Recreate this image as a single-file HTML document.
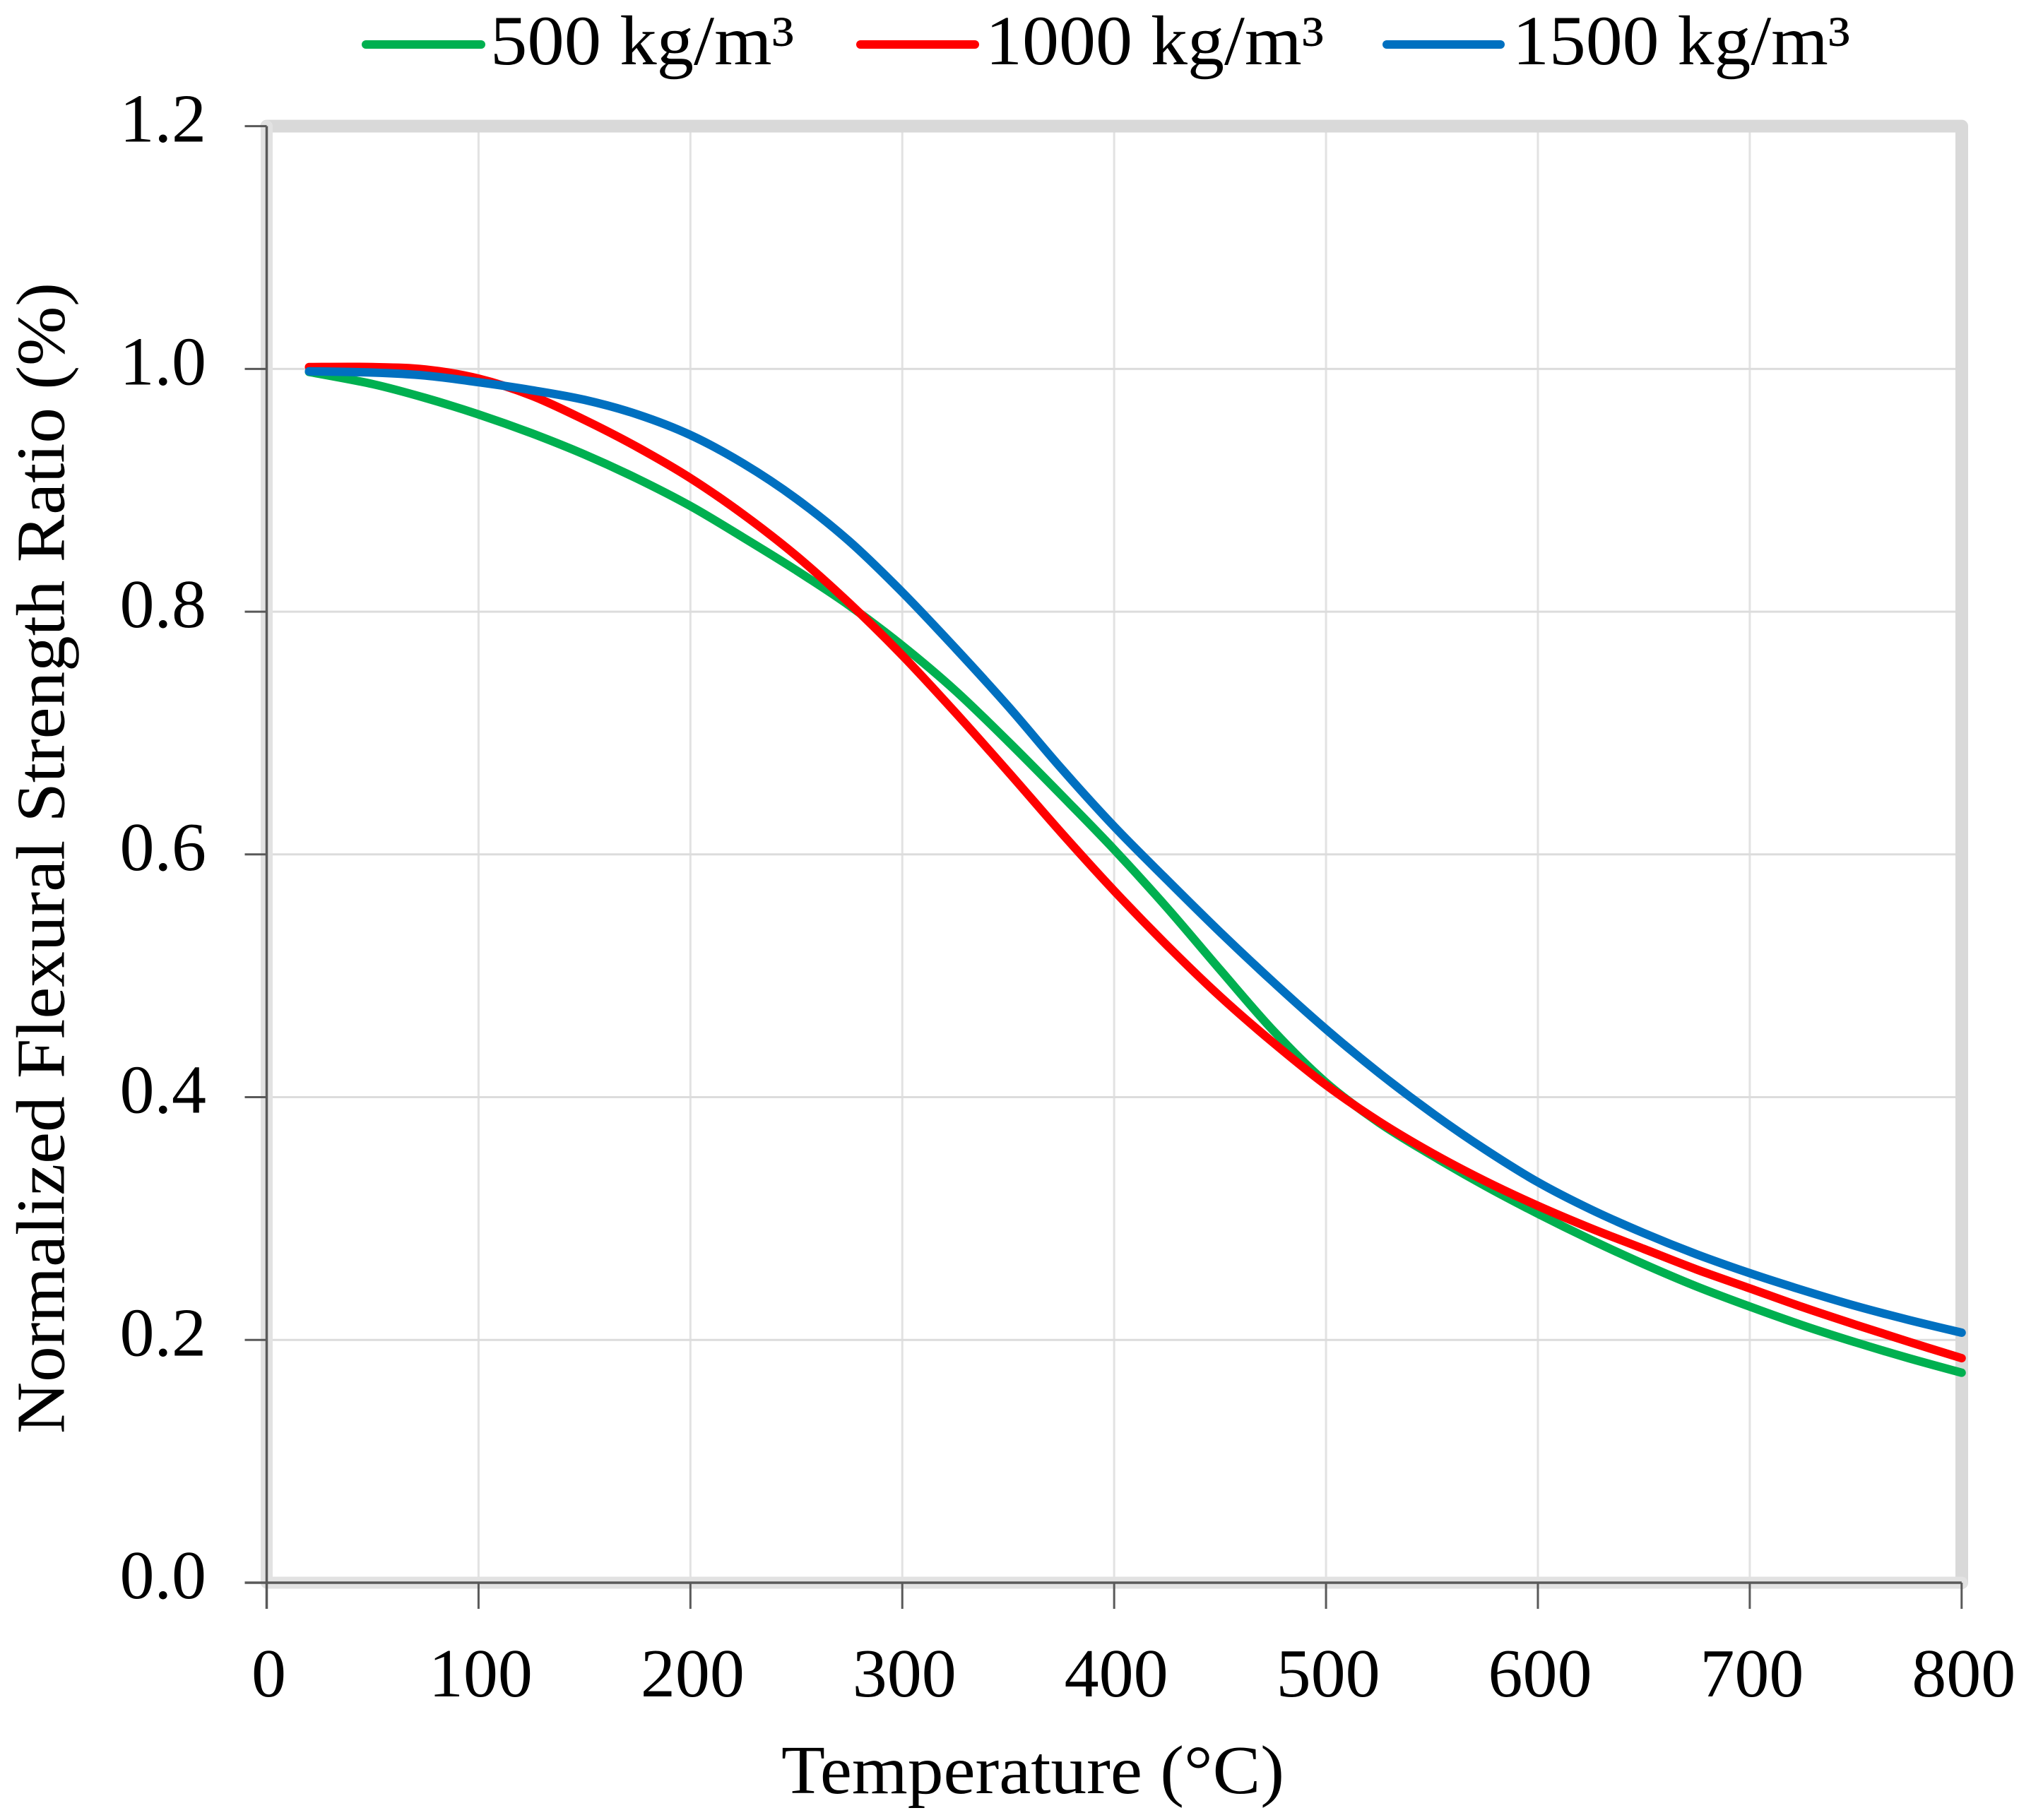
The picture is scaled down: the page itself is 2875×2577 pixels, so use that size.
<!DOCTYPE html>
<html lang="en">
<head>
<meta charset="utf-8">
<title>Normalized Flexural Strength Ratio vs Temperature</title>
<style>
  html, body { margin: 0; padding: 0; background: #ffffff; }
  svg { display: block; }
  text { font-family: "Liberation Serif", "DejaVu Serif", serif; fill: #000000; }
</style>
</head>
<body>
<svg id="chart" xmlns="http://www.w3.org/2000/svg" width="2875" height="2577" viewBox="0 0 2875 2577">
  <rect x="0" y="0" width="2875" height="2577" fill="#ffffff"/>
  <g id="grid"></g>
  <path id="frame-top-right" d="M377.5 178.6H2777V2241" fill="none" stroke="#d9d9d9" stroke-width="18" stroke-linejoin="round" stroke-linecap="round"/>
  <path id="frame-left-bottom" d="M377.5 178.6V2241H2777" fill="none" stroke="#e2e2e2" stroke-width="17" stroke-linejoin="round" stroke-linecap="round"/>
  <g id="axes"></g>
  <g id="series"></g>
  <g id="x-labels"></g>
  <g id="y-labels"></g>
  <text transform="translate(90.5 2030) rotate(-90)" font-size="98" textLength="1630" lengthAdjust="spacingAndGlyphs">Normalized Flexural Strength Ratio (%)</text>
  <text x="1106" y="2539" font-size="98" textLength="712" lengthAdjust="spacingAndGlyphs">Temperature (°C)</text>
  <g>
    <line x1="518" y1="63" x2="681" y2="63" stroke="#00b050" stroke-width="12" stroke-linecap="round"/>
    <text x="694" y="91" font-size="100" textLength="430" lengthAdjust="spacingAndGlyphs">500 kg/m³</text>
    <line x1="1218" y1="63" x2="1380" y2="63" stroke="#ff0000" stroke-width="12" stroke-linecap="round"/>
    <text x="1395" y="91" font-size="100" textLength="479" lengthAdjust="spacingAndGlyphs">1000 kg/m³</text>
    <line x1="1963" y1="63" x2="2124" y2="63" stroke="#0070c0" stroke-width="12" stroke-linecap="round"/>
    <text x="2141" y="91" font-size="100" textLength="478" lengthAdjust="spacingAndGlyphs">1500 kg/m³</text>
  </g>
</svg>
<script>
const xTicks = [0, 100, 200, 300, 400, 500, 600, 700, 800];
const yTicks = [0, 0.2, 0.4, 0.6, 0.8, 1.0, 1.2];
const yTickLabels = ['0.0', '0.2', '0.4', '0.6', '0.8', '1.0', '1.2'];

const tempGreen = [20, 50, 75, 100, 125, 150, 175, 200, 225, 250, 275, 300, 325, 350, 375, 400, 425, 450, 475, 500, 525, 550, 575, 600, 625, 650, 675, 700, 725, 750, 775, 800];
const density500 = [0.9975, 0.9875, 0.976, 0.9625, 0.947, 0.9295, 0.9095, 0.887, 0.861, 0.834, 0.805, 0.772, 0.735, 0.693, 0.649, 0.604, 0.556, 0.505, 0.455, 0.412, 0.379, 0.352, 0.327, 0.304, 0.2825, 0.2625, 0.244, 0.2275, 0.212, 0.198, 0.185, 0.173];

const tempRed = [20, 50, 75, 100, 125, 150, 175, 200, 225, 250, 275, 300, 325, 350, 375, 400, 425, 450, 475, 500, 525, 550, 575, 600, 625, 650, 675, 700, 725, 750, 775, 800];
const density1000 = [1.0015, 1.0015, 0.9995, 0.992, 0.978, 0.958, 0.9355, 0.910, 0.880, 0.846, 0.807, 0.764, 0.717, 0.668, 0.618, 0.570, 0.525, 0.483, 0.445, 0.410, 0.380, 0.354, 0.331, 0.3105, 0.292, 0.275, 0.258, 0.2425, 0.227, 0.2125, 0.1985, 0.185];

const tempBlue = [20, 50, 75, 100, 125, 150, 175, 200, 225, 250, 275, 300, 325, 350, 375, 400, 425, 450, 475, 500, 525, 550, 575, 600, 625, 650, 675, 700, 725, 750, 775, 800];
const density1500 = [0.998, 0.997, 0.9945, 0.989, 0.9825, 0.9745, 0.9625, 0.9455, 0.922, 0.893, 0.858, 0.816, 0.770, 0.722, 0.671, 0.623, 0.579, 0.536, 0.495, 0.456, 0.420, 0.387, 0.357, 0.330, 0.3075, 0.288, 0.2705, 0.255, 0.241, 0.228, 0.2165, 0.206];

const SVG_NS = 'http://www.w3.org/2000/svg';
const plotLeft = 377.5, plotRight = 2776.8, plotTop = 178.6, plotBottom = 2241;
const xMax = 800, yMax = 1.2;

function xScale(v) { return plotLeft + (v / xMax) * (plotRight - plotLeft); }
function yScale(v) { return plotBottom - (v / yMax) * (plotBottom - plotTop); }

function make(tag, attrs, parent) {
  const el = document.createElementNS(SVG_NS, tag);
  for (const k in attrs) el.setAttribute(k, attrs[k]);
  parent.appendChild(el);
  return el;
}

function smoothPath(xs, ys) {
  const pts = xs.map((x, i) => [xScale(x), yScale(ys[i])]);
  let d = 'M' + pts[0][0].toFixed(2) + ' ' + pts[0][1].toFixed(2);
  for (let i = 0; i < pts.length - 1; i++) {
    const p0 = pts[Math.max(i - 1, 0)];
    const p1 = pts[i];
    const p2 = pts[i + 1];
    const p3 = pts[Math.min(i + 2, pts.length - 1)];
    const c1x = p1[0] + (p2[0] - p0[0]) / 6;
    const c1y = p1[1] + (p2[1] - p0[1]) / 6;
    const c2x = p2[0] - (p3[0] - p1[0]) / 6;
    const c2y = p2[1] - (p3[1] - p1[1]) / 6;
    d += 'C' + c1x.toFixed(2) + ' ' + c1y.toFixed(2) + ' ' + c2x.toFixed(2) + ' ' + c2y.toFixed(2) + ' ' + p2[0].toFixed(2) + ' ' + p2[1].toFixed(2);
  }
  return d;
}

const gridGroup = document.getElementById('grid');
const axesGroup = document.getElementById('axes');
const xLabelGroup = document.getElementById('x-labels');
const yLabelGroup = document.getElementById('y-labels');
const seriesGroup = document.getElementById('series');

xTicks.forEach(function (t) {
  if (t > 0 && t < xMax) {
    const g = make('line', { x1: xScale(t), x2: xScale(t), y1: plotTop, y2: plotBottom, stroke: '#e2e2e2', 'stroke-width': 3 }, gridGroup);
    
    
  }
  const tick = make('line', { x1: xScale(t), x2: xScale(t), y1: plotBottom, y2: plotBottom + 37, stroke: '#595959', 'stroke-width': 3 }, axesGroup);
  
  
  const label = make('text', { x: xScale(t) + 3, y: 2402, 'font-size': 98, 'text-anchor': 'middle' }, xLabelGroup);
  
  
  label.textContent = String(t);
});

yTicks.forEach(function (t, i) {
  if (t > 0 && t < yMax) {
    const g = make('line', { x1: plotLeft, x2: plotRight, y1: yScale(t), y2: yScale(t), stroke: '#dcdcdc', 'stroke-width': 3 }, gridGroup);
    
    
  }
  const tick = make('line', { x1: plotLeft - 31, x2: plotLeft, y1: yScale(t), y2: yScale(t), stroke: '#595959', 'stroke-width': 3 }, axesGroup);
  
  
  const label = make('text', { x: 292, y: yScale(t) + 22, 'font-size': 98, 'text-anchor': 'end' }, yLabelGroup);
  
  
  label.textContent = yTickLabels[i];
});

const xAxisLine = make('line', { x1: plotLeft - 31, x2: plotRight, y1: plotBottom, y2: plotBottom, stroke: '#595959', 'stroke-width': 3.5 }, axesGroup);


const yAxisLine = make('line', { x1: plotLeft, x2: plotLeft, y1: plotTop, y2: plotBottom + 37, stroke: '#595959', 'stroke-width': 3.5 }, axesGroup);



const lineGreen = make('path', { d: smoothPath(tempGreen, density500), fill: 'none', stroke: '#00b050', 'stroke-width': 12, 'stroke-linecap': 'round', 'stroke-linejoin': 'round' }, seriesGroup);



const lineRed = make('path', { d: smoothPath(tempRed, density1000), fill: 'none', stroke: '#ff0000', 'stroke-width': 12, 'stroke-linecap': 'round', 'stroke-linejoin': 'round' }, seriesGroup);



const lineBlue = make('path', { d: smoothPath(tempBlue, density1500), fill: 'none', stroke: '#0070c0', 'stroke-width': 12, 'stroke-linecap': 'round', 'stroke-linejoin': 'round' }, seriesGroup);


</script>
</body>
</html>
